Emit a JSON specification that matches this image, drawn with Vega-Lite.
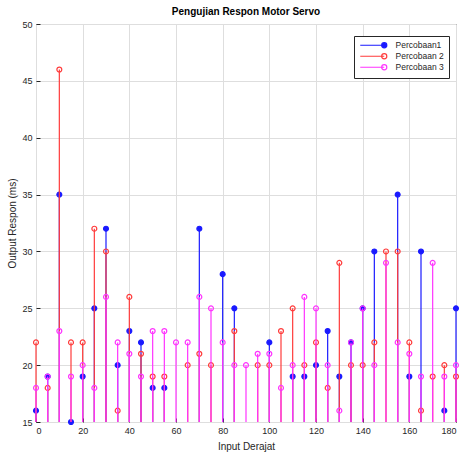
{
  "$schema": "https://vega.github.io/schema/vega-lite/v6.json",
  "width": 420,
  "height": 398,
  "autosize": "none",
  "padding": {"left": 36, "top": 24, "right": 8, "bottom": 32},
  "background": "white",
  "title": {"text": "Pengujian Respon Motor Servo", "fontSize": 10, "fontWeight": "bold", "font": "Liberation Sans", "color": "#000000", "offset": 3, "anchor": "middle"},
  "config": {
    "view": {"stroke": "#262626", "strokeWidth": 1},
    "axis": {
      "labelFont": "Liberation Sans", "labelFontSize": 9, "labelColor": "#262626",
      "titleFont": "Liberation Sans", "titleFontSize": 10, "titleFontWeight": "normal", "titleColor": "#262626",
      "gridColor": "#dedede", "gridWidth": 1, "domain": false,
      "tickColor": "#262626", "tickSize": -4, "labelPadding": 8
    }
  },
  "data": {"values": [
    {"x": 0, "series": "Percobaan1", "value": 16},
    {"x": 5, "series": "Percobaan1", "value": 19},
    {"x": 10, "series": "Percobaan1", "value": 35},
    {"x": 15, "series": "Percobaan1", "value": 15},
    {"x": 20, "series": "Percobaan1", "value": 19},
    {"x": 25, "series": "Percobaan1", "value": 25},
    {"x": 30, "series": "Percobaan1", "value": 32},
    {"x": 35, "series": "Percobaan1", "value": 20},
    {"x": 40, "series": "Percobaan1", "value": 23},
    {"x": 45, "series": "Percobaan1", "value": 22},
    {"x": 50, "series": "Percobaan1", "value": 18},
    {"x": 55, "series": "Percobaan1", "value": 18},
    {"x": 70, "series": "Percobaan1", "value": 32},
    {"x": 80, "series": "Percobaan1", "value": 28},
    {"x": 85, "series": "Percobaan1", "value": 25},
    {"x": 100, "series": "Percobaan1", "value": 22},
    {"x": 110, "series": "Percobaan1", "value": 19},
    {"x": 115, "series": "Percobaan1", "value": 19},
    {"x": 120, "series": "Percobaan1", "value": 20},
    {"x": 125, "series": "Percobaan1", "value": 23},
    {"x": 130, "series": "Percobaan1", "value": 19},
    {"x": 135, "series": "Percobaan1", "value": 22},
    {"x": 140, "series": "Percobaan1", "value": 25},
    {"x": 145, "series": "Percobaan1", "value": 30},
    {"x": 155, "series": "Percobaan1", "value": 35},
    {"x": 160, "series": "Percobaan1", "value": 19},
    {"x": 165, "series": "Percobaan1", "value": 30},
    {"x": 175, "series": "Percobaan1", "value": 16},
    {"x": 180, "series": "Percobaan1", "value": 25},
    {"x": 0, "series": "Percobaan 2", "value": 22},
    {"x": 5, "series": "Percobaan 2", "value": 18},
    {"x": 10, "series": "Percobaan 2", "value": 46},
    {"x": 15, "series": "Percobaan 2", "value": 22},
    {"x": 20, "series": "Percobaan 2", "value": 22},
    {"x": 25, "series": "Percobaan 2", "value": 32},
    {"x": 30, "series": "Percobaan 2", "value": 30},
    {"x": 35, "series": "Percobaan 2", "value": 16},
    {"x": 40, "series": "Percobaan 2", "value": 26},
    {"x": 45, "series": "Percobaan 2", "value": 21},
    {"x": 50, "series": "Percobaan 2", "value": 19},
    {"x": 55, "series": "Percobaan 2", "value": 19},
    {"x": 65, "series": "Percobaan 2", "value": 20},
    {"x": 70, "series": "Percobaan 2", "value": 21},
    {"x": 75, "series": "Percobaan 2", "value": 20},
    {"x": 85, "series": "Percobaan 2", "value": 23},
    {"x": 95, "series": "Percobaan 2", "value": 20},
    {"x": 100, "series": "Percobaan 2", "value": 20},
    {"x": 105, "series": "Percobaan 2", "value": 23},
    {"x": 110, "series": "Percobaan 2", "value": 25},
    {"x": 115, "series": "Percobaan 2", "value": 20},
    {"x": 120, "series": "Percobaan 2", "value": 22},
    {"x": 125, "series": "Percobaan 2", "value": 18},
    {"x": 130, "series": "Percobaan 2", "value": 29},
    {"x": 135, "series": "Percobaan 2", "value": 20},
    {"x": 140, "series": "Percobaan 2", "value": 20},
    {"x": 145, "series": "Percobaan 2", "value": 22},
    {"x": 150, "series": "Percobaan 2", "value": 30},
    {"x": 155, "series": "Percobaan 2", "value": 30},
    {"x": 160, "series": "Percobaan 2", "value": 22},
    {"x": 165, "series": "Percobaan 2", "value": 16},
    {"x": 170, "series": "Percobaan 2", "value": 19},
    {"x": 175, "series": "Percobaan 2", "value": 20},
    {"x": 180, "series": "Percobaan 2", "value": 19},
    {"x": 0, "series": "Percobaan 3", "value": 18},
    {"x": 5, "series": "Percobaan 3", "value": 19},
    {"x": 10, "series": "Percobaan 3", "value": 23},
    {"x": 15, "series": "Percobaan 3", "value": 19},
    {"x": 20, "series": "Percobaan 3", "value": 20},
    {"x": 25, "series": "Percobaan 3", "value": 18},
    {"x": 30, "series": "Percobaan 3", "value": 26},
    {"x": 35, "series": "Percobaan 3", "value": 22},
    {"x": 40, "series": "Percobaan 3", "value": 21},
    {"x": 45, "series": "Percobaan 3", "value": 19},
    {"x": 50, "series": "Percobaan 3", "value": 23},
    {"x": 55, "series": "Percobaan 3", "value": 23},
    {"x": 60, "series": "Percobaan 3", "value": 22},
    {"x": 65, "series": "Percobaan 3", "value": 22},
    {"x": 70, "series": "Percobaan 3", "value": 26},
    {"x": 75, "series": "Percobaan 3", "value": 25},
    {"x": 80, "series": "Percobaan 3", "value": 22},
    {"x": 85, "series": "Percobaan 3", "value": 20},
    {"x": 90, "series": "Percobaan 3", "value": 20},
    {"x": 95, "series": "Percobaan 3", "value": 21},
    {"x": 100, "series": "Percobaan 3", "value": 21},
    {"x": 105, "series": "Percobaan 3", "value": 18},
    {"x": 110, "series": "Percobaan 3", "value": 20},
    {"x": 115, "series": "Percobaan 3", "value": 26},
    {"x": 120, "series": "Percobaan 3", "value": 25},
    {"x": 125, "series": "Percobaan 3", "value": 20},
    {"x": 130, "series": "Percobaan 3", "value": 16},
    {"x": 135, "series": "Percobaan 3", "value": 22},
    {"x": 140, "series": "Percobaan 3", "value": 25},
    {"x": 145, "series": "Percobaan 3", "value": 20},
    {"x": 150, "series": "Percobaan 3", "value": 29},
    {"x": 155, "series": "Percobaan 3", "value": 22},
    {"x": 160, "series": "Percobaan 3", "value": 21},
    {"x": 165, "series": "Percobaan 3", "value": 19},
    {"x": 170, "series": "Percobaan 3", "value": 29},
    {"x": 175, "series": "Percobaan 3", "value": 19},
    {"x": 180, "series": "Percobaan 3", "value": 20}
  ]},
  "encoding": {
    "x": {"field": "x", "type": "quantitative",
      "scale": {"domain": [0, 180], "nice": false, "zero": false},
      "axis": {"values": [0, 20, 40, 60, 80, 100, 120, 140, 160, 180], "title": "Input Derajat", "titlePadding": 6}},
    "y": {"field": "value", "type": "quantitative",
      "scale": {"domain": [15, 50], "nice": false, "zero": false},
      "axis": {"values": [15, 20, 25, 30, 35, 40, 45, 50], "title": "Output Respon (ms)", "titlePadding": 4}},
    "stroke": {"field": "series", "type": "nominal",
      "scale": {"domain": ["Percobaan1", "Percobaan 2", "Percobaan 3"], "range": ["#1a1aff", "#ff3b3b", "#ff33ff"]},
      "legend": {"title": null, "orient": "none", "legendX": 318, "legendY": 12,
        "symbolType": "M-1,0H7M7.85,0A0.85,0.85 0 1,1 6.15,0A0.85,0.85 0 1,1 7.85,0Z",
        "symbolSize": 36, "symbolStrokeWidth": 1.2, "labelOffset": 28,
        "labelFont": "Liberation Sans", "labelFontSize": 8.5, "labelColor": "#262626",
        "strokeColor": "#262626", "fillColor": "white", "padding": 5, "rowPadding": 0}}
  },
  "layer": [
    {"transform": [{"filter": "datum.series === 'Percobaan1'"}], "mark": {"type": "rule", "strokeWidth": 1.2}, "encoding": {"y2": {"datum": 15}}},
    {"transform": [{"filter": "datum.series === 'Percobaan1'"}], "mark": {"type": "point", "shape": "circle", "size": 24, "strokeWidth": 1.2, "opacity": 1},
      "encoding": {"fill": {"field": "series", "type": "nominal", "scale": {"domain": ["Percobaan1", "Percobaan 2", "Percobaan 3"], "range": ["#1a1aff", "transparent", "transparent"]}, "legend": {"title": null}}}},
    {"transform": [{"filter": "datum.series === 'Percobaan 2'"}], "mark": {"type": "rule", "strokeWidth": 1.2}, "encoding": {"y2": {"datum": 15}}},
    {"transform": [{"filter": "datum.series === 'Percobaan 2'"}], "mark": {"type": "point", "shape": "circle", "size": 24, "strokeWidth": 1.2, "opacity": 1},
      "encoding": {"fill": {"field": "series", "type": "nominal", "legend": {"title": null}}}},
    {"transform": [{"filter": "datum.series === 'Percobaan 3'"}], "mark": {"type": "rule", "strokeWidth": 1.2}, "encoding": {"y2": {"datum": 15}}},
    {"transform": [{"filter": "datum.series === 'Percobaan 3'"}], "mark": {"type": "point", "shape": "circle", "size": 24, "strokeWidth": 1.2, "opacity": 1},
      "encoding": {"fill": {"field": "series", "type": "nominal", "legend": {"title": null}}}}
  ]
}
